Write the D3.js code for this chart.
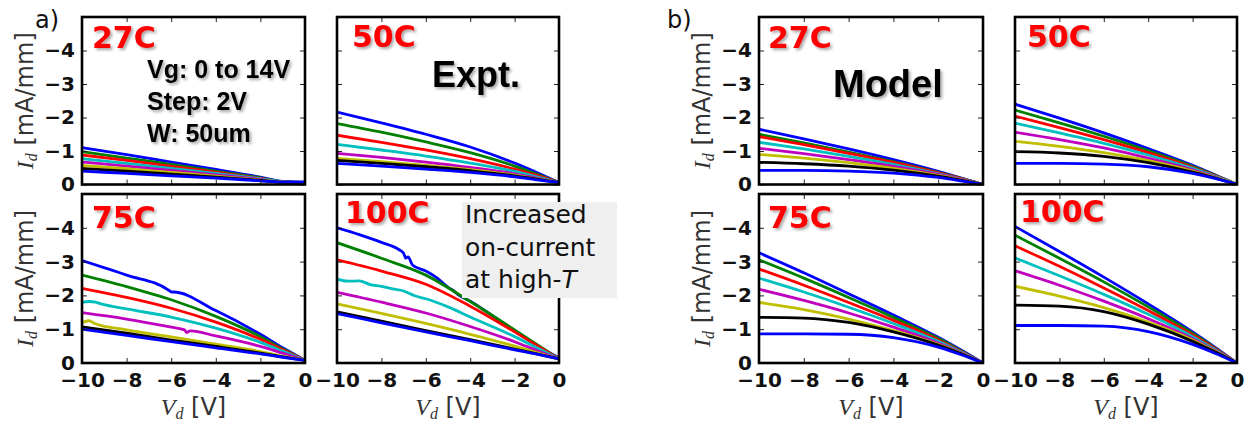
<!DOCTYPE html>
<html>
<head>
<meta charset="utf-8">
<script src="https://cdn.jsdelivr.net/npm/d3@7"></script>
<style>
  body { margin: 0; background: #fff; }
  svg { display: block; }
</style>
</head>
<body>
<svg id="chart" width="1253" height="423"></svg>
<script>
// Vd sample points shared by most curves; glitchy curves carry their own [vd, id] pairs
const vdGrid = [-10, -8, -6, -4, -2, -1, 0];
const xTicks = [-10, -8, -6, -4, -2, 0];
const yTicks = [0, -1, -2, -3, -4];
// matplotlib classic cycle b g r c m y k, then b again (Vg = 0..14 V, 8 curves)
const lineColors = ['#0000ff', '#008000', '#ff0000', '#00bfbf', '#bf00bf', '#bfbf00', '#000000', '#0000ff'];

// ---- a) measured Id [mA/mm] ----
const expt27C = [
  [-1.10, -0.89, -0.67, -0.45, -0.22, -0.09, -0.06],
  [-0.98, -0.79, -0.60, -0.40, -0.20, -0.08, -0.06],
  [-0.88, -0.72, -0.54, -0.37, -0.18, -0.08, -0.06],
  [-0.77, -0.63, -0.48, -0.33, -0.17, -0.08, -0.06],
  [-0.67, -0.55, -0.42, -0.29, -0.15, -0.07, -0.06],
  [-0.57, -0.47, -0.36, -0.25, -0.13, -0.07, -0.06],
  [-0.48, -0.40, -0.31, -0.22, -0.12, -0.07, -0.07],
  [-0.40, -0.33, -0.26, -0.19, -0.11, -0.07, -0.07],
];
const expt50C = [
  [-2.16, -1.84, -1.50, -1.12, -0.64, -0.36, -0.06],
  [-1.82, -1.56, -1.27, -0.95, -0.55, -0.31, -0.06],
  [-1.47, -1.26, -1.03, -0.77, -0.46, -0.27, -0.06],
  [-1.20, -1.03, -0.85, -0.64, -0.39, -0.23, -0.06],
  [-0.93, -0.81, -0.67, -0.51, -0.32, -0.19, -0.06],
  [-0.78, -0.68, -0.57, -0.44, -0.28, -0.17, -0.06],
  [-0.72, -0.63, -0.53, -0.41, -0.26, -0.16, -0.06],
  [-0.63, -0.55, -0.46, -0.36, -0.23, -0.14, -0.06],
];
const expt75C = [
  [[-10, -3.03], [-8, -2.60], [-6.1, -2.15], [-6, -2.10], [-5.9, -2.10], [-4, -1.55], [-2, -0.85], [-1, -0.45], [0, -0.08]],
  [-2.60, -2.26, -1.87, -1.38, -0.78, -0.42, -0.08],
  [-2.21, -1.94, -1.62, -1.21, -0.70, -0.39, -0.08],
  [[-10, -1.79], [-9.7, -1.82], [-9.4, -1.80], [-9.1, -1.74], [-8, -1.60], [-6, -1.36], [-4, -1.03], [-2, -0.61], [-1, -0.35], [0, -0.08]],
  [[-10, -1.49], [-8, -1.30], [-6, -1.06], [-5.4, -0.98], [-5.3, -0.90], [-5.15, -0.95], [-4, -0.80], [-2, -0.49], [-1, -0.29], [0, -0.08]],
  [[-10, -1.19], [-9.7, -1.25], [-9.4, -1.16], [-8, -0.98], [-6, -0.77], [-4, -0.56], [-2, -0.34], [-1, -0.20], [0, -0.08]],
  [-1.07, -0.88, -0.68, -0.49, -0.29, -0.18, -0.08],
  [-1.00, -0.82, -0.63, -0.45, -0.27, -0.17, -0.08],
];
const expt100C = [
  [[-10, -4.00], [-9, -3.80], [-8, -3.57], [-7.2, -3.35], [-7.0, -3.25], [-6.9, -3.10], [-6.8, -3.14], [-6.6, -2.90],
   [-6, -2.72], [-5.5, -2.52], [-5, -2.24], [-4.8, -2.16], [-4.5, -2.00], [-4, -1.83], [-3, -1.40], [-2, -0.95], [-1, -0.52], [0, -0.15]],
  [-3.56, -3.10, -2.60, -1.82, -0.98, -0.55, -0.12],
  [-3.05, -2.72, -2.33, -1.68, -0.92, -0.52, -0.12],
  [[-10, -2.48], [-9.5, -2.42], [-9, -2.43], [-8.5, -2.32], [-8, -2.27], [-7.5, -2.19], [-7, -2.13], [-6.5, -1.99],
   [-6, -1.90], [-5, -1.66], [-4, -1.36], [-2, -0.78], [-1, -0.45], [0, -0.12]],
  [-2.09, -1.80, -1.48, -1.08, -0.63, -0.37, -0.12],
  [-1.75, -1.47, -1.17, -0.85, -0.50, -0.31, -0.12],
  [-1.51, -1.24, -0.96, -0.69, -0.41, -0.27, -0.12],
  [-1.46, -1.19, -0.92, -0.66, -0.39, -0.26, -0.12],
];

// ---- b) model Id [mA/mm] ----
const model27C = [
  [-1.65, -1.36, -1.06, -0.74, -0.39, -0.20, 0],
  [-1.50, -1.24, -0.97, -0.68, -0.36, -0.19, 0],
  [-1.43, -1.19, -0.93, -0.66, -0.35, -0.18, 0],
  [-1.26, -1.06, -0.84, -0.60, -0.32, -0.17, 0],
  [-1.08, -0.92, -0.74, -0.54, -0.30, -0.16, 0],
  [-0.90, -0.79, -0.65, -0.48, -0.27, -0.14, 0],
  [-0.66, -0.62, -0.55, -0.43, -0.25, -0.13, 0],
  [-0.42, -0.42, -0.40, -0.34, -0.21, -0.11, 0],
];
const model50C = [
  [-2.40, -1.98, -1.54, -1.07, -0.57, -0.29, 0],
  [-2.22, -1.84, -1.44, -1.01, -0.54, -0.28, 0],
  [-2.04, -1.70, -1.34, -0.95, -0.51, -0.27, 0],
  [-1.83, -1.54, -1.23, -0.88, -0.48, -0.25, 0],
  [-1.56, -1.34, -1.09, -0.79, -0.44, -0.23, 0],
  [-1.29, -1.14, -0.95, -0.71, -0.40, -0.21, 0],
  [-0.98, -0.94, -0.84, -0.65, -0.37, -0.20, 0],
  [-0.63, -0.63, -0.61, -0.53, -0.33, -0.18, 0],
];
const model75C = [
  [-3.26, -2.67, -2.05, -1.42, -0.76, -0.39, 0],
  [-3.05, -2.51, -1.94, -1.35, -0.73, -0.37, 0],
  [-2.78, -2.30, -1.79, -1.26, -0.68, -0.35, 0],
  [-2.51, -2.10, -1.65, -1.17, -0.64, -0.33, 0],
  [-2.18, -1.85, -1.48, -1.06, -0.59, -0.31, 0],
  [-1.79, -1.58, -1.30, -0.96, -0.55, -0.29, 0],
  [-1.35, -1.33, -1.20, -0.92, -0.53, -0.28, 0],
  [-0.86, -0.86, -0.85, -0.75, -0.47, -0.25, 0],
];
const model100C = [
  [-4.04, -3.30, -2.54, -1.75, -0.92, -0.47, 0],
  [-3.78, -3.10, -2.40, -1.66, -0.88, -0.45, 0],
  [-3.47, -2.86, -2.22, -1.55, -0.83, -0.43, 0],
  [-3.11, -2.58, -2.03, -1.44, -0.78, -0.40, 0],
  [-2.73, -2.30, -1.83, -1.31, -0.72, -0.37, 0],
  [-2.27, -1.98, -1.64, -1.21, -0.68, -0.35, 0],
  [-1.71, -1.68, -1.52, -1.15, -0.64, -0.33, 0],
  [-1.11, -1.11, -1.09, -0.93, -0.55, -0.29, 0],
];

const panels = [
  { group: 'a', row: 0, col: 0, temp: '27C', data: expt27C },
  { group: 'a', row: 0, col: 1, temp: '50C', data: expt50C },
  { group: 'a', row: 1, col: 0, temp: '75C', data: expt75C },
  { group: 'a', row: 1, col: 1, temp: '100C', data: expt100C },
  { group: 'b', row: 0, col: 0, temp: '27C', data: model27C },
  { group: 'b', row: 0, col: 1, temp: '50C', data: model50C },
  { group: 'b', row: 1, col: 0, temp: '75C', data: model75C },
  { group: 'b', row: 1, col: 1, temp: '100C', data: model100C },
];

// ---- layout ----
const colX = { a: [[82, 305], [337, 559]], b: [[759, 983], [1015, 1237]] };
const rowY = [[17, 184.5], [194, 363]];
const tempLabelPos = {
  'a27C': [92, 48], 'a50C': [352, 47], 'a75C': [92, 228], 'a100C': [345, 223],
  'b27C': [768, 48], 'b50C': [1027, 47], 'b75C': [768, 228], 'b100C': [1020, 222],
};
const ylabelX = { a: 33, b: 710 };
const groupTag = { a: [35, 28], b: [667, 28] };

const svg = d3.select('#chart');
const defs = svg.append('defs');
const shadow = defs.append('filter').attr('id', 'shadow')
  .attr('x', '-10%').attr('y', '-20%').attr('width', '130%').attr('height', '150%');
shadow.append('feDropShadow').attr('dx', 2).attr('dy', 2).attr('stdDeviation', 1.8)
  .attr('flood-color', '#000').attr('flood-opacity', 0.35);

const line = d3.line().curve(d3.curveMonotoneX);

panels.forEach((p, i) => {
  const [x0, x1] = colX[p.group][p.col];
  const [y0, y1] = rowY[p.row];
  const x = d3.scaleLinear().domain([-10, 0]).range([x0, x1]);
  const y = d3.scaleLinear().domain([0, -5]).range([y1, y0]);
  const g = svg.append('g');

  defs.append('clipPath').attr('id', 'clip' + i)
    .append('rect').attr('x', x0).attr('y', y0).attr('width', x1 - x0).attr('height', y1 - y0);

  const curves = g.append('g').attr('clip-path', `url(#clip${i})`);
  p.data.forEach((c, k) => {
    const pts = typeof c[0] === 'number' ? c.map((v, j) => [vdGrid[j], v]) : c;
    curves.append('path')
      .attr('d', line(pts.map(d => [x(d[0]), y(d[1])])))
      .attr('fill', 'none')
      .attr('stroke', lineColors[k])
      .attr('stroke-width', 2.8)
      .attr('stroke-linejoin', 'round');
  });

  const showY = p.col === 0;
  const showX = p.row === 1;
  const styleAxis = sel => {
    sel.select('.domain').remove();
    sel.selectAll('.tick line').attr('stroke', '#222').attr('stroke-width', 1);
    sel.selectAll('text').attr('font-family', 'DejaVu Sans').attr('font-weight', 'bold')
      .attr('font-size', 20).attr('fill', '#111');
  };
  g.append('g').attr('transform', `translate(${x0},0)`)
    .call(d3.axisLeft(y).tickValues(yTicks).tickSize(-5).tickPadding(7)
      .tickFormat(showY ? d3.format('d') : ''))
    .call(styleAxis);
  g.append('g').attr('transform', `translate(${x1},0)`)
    .call(d3.axisRight(y).tickValues(yTicks).tickSize(-5).tickFormat(''))
    .call(styleAxis);
  g.append('g').attr('transform', `translate(0,${y1})`)
    .call(d3.axisBottom(x).tickValues(xTicks).tickSize(-5).tickPadding(10)
      .tickFormat(showX ? d3.format('d') : ''))
    .call(styleAxis);
  g.append('g').attr('transform', `translate(0,${y0})`)
    .call(d3.axisTop(x).tickValues(xTicks).tickSize(-5).tickFormat(''))
    .call(styleAxis);

  g.append('rect').attr('x', x0).attr('y', y0).attr('width', x1 - x0).attr('height', y1 - y0)
    .attr('fill', 'none').attr('stroke', '#000').attr('stroke-width', 2.6);

  const [tx, ty] = tempLabelPos[p.group + p.temp];
  g.append('text').attr('x', tx).attr('y', ty).text(p.temp)
    .attr('font-family', 'DejaVu Sans').attr('font-weight', 'bold').attr('font-size', 30)
    .attr('fill', '#ff0000').attr('filter', 'url(#shadow)');

  if (showY) {
    const t = g.append('text')
      .attr('transform', `translate(${ylabelX[p.group]},${(y0 + y1) / 2}) rotate(-90)`)
      .attr('text-anchor', 'middle').attr('fill', '#333').attr('font-size', 24);
    t.append('tspan').attr('font-family', 'Liberation Serif').attr('font-style', 'italic').text('I');
    t.append('tspan').attr('font-family', 'Liberation Serif').attr('font-style', 'italic')
      .attr('font-size', 16).attr('dy', 4).text('d');
    t.append('tspan').attr('font-family', 'DejaVu Sans').attr('dy', -4).text(' [mA/mm]');
  }
  if (showX) {
    const t = g.append('text').attr('x', (x0 + x1) / 2).attr('y', 415)
      .attr('text-anchor', 'middle').attr('fill', '#333').attr('font-size', 24);
    t.append('tspan').attr('font-family', 'Liberation Serif').attr('font-style', 'italic').text('V');
    t.append('tspan').attr('font-family', 'Liberation Serif').attr('font-style', 'italic')
      .attr('font-size', 16).attr('dy', 4).text('d');
    t.append('tspan').attr('font-family', 'DejaVu Sans').attr('dy', -4).text(' [V]');
  }
});

// group tags
Object.entries(groupTag).forEach(([k, [tx, ty]]) => {
  svg.append('text').attr('x', tx).attr('y', ty).text(k + ')')
    .attr('font-family', 'DejaVu Sans').attr('font-size', 24).attr('fill', '#111');
});

// annotations
const boldText = (txt, tx, ty, size) => svg.append('text').attr('x', tx).attr('y', ty).text(txt)
  .attr('font-family', 'Liberation Sans').attr('font-weight', 'bold').attr('font-size', size)
  .attr('fill', '#000').attr('filter', 'url(#shadow)');
boldText('Vg: 0 to 14V', 147, 78, 25);
boldText('Step: 2V', 147, 110, 25);
boldText('W: 50um', 147, 142, 25);
boldText('Expt.', 432, 87, 36);
boldText('Model', 833, 97, 38);

svg.append('rect').attr('x', 462).attr('y', 202).attr('width', 155).attr('height', 96).attr('fill', '#efefef');
const note = svg.append('text').attr('font-family', 'DejaVu Sans').attr('font-size', 25).attr('fill', '#111');
note.append('tspan').attr('x', 465).attr('y', 223).text('Increased');
note.append('tspan').attr('x', 465).attr('y', 256).text('on-current');
const l3 = note.append('tspan').attr('x', 465).attr('y', 288);
l3.append('tspan').text('at high-');
l3.append('tspan').attr('font-style', 'italic').text('T');
</script>
</body>
</html>
